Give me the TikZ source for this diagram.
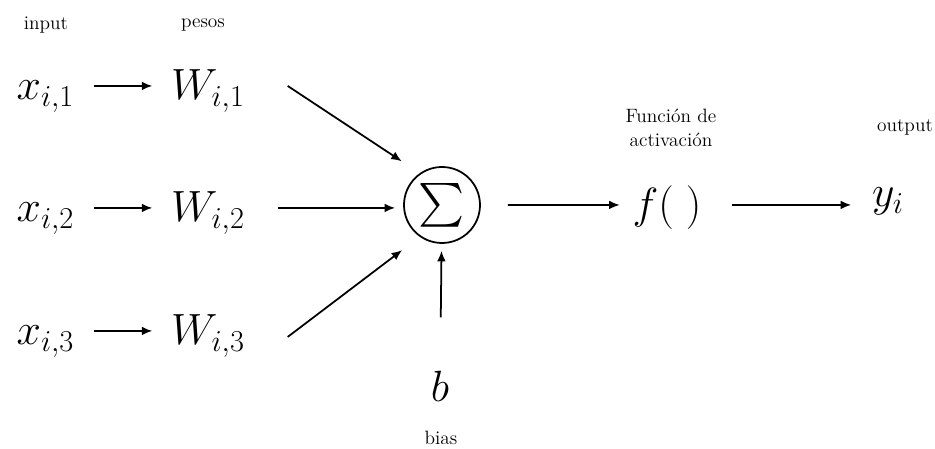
\documentclass[tikz,border=0pt]{standalone}
\usepackage{amsmath}
\usetikzlibrary{arrows.meta}
\tikzset{
  mathnode/.style={anchor=base, inner sep=0pt, text height=18pt, text depth=2pt,
    font=\fontsize{25}{30}\selectfont},
  label/.style={font=\fontsize{11}{14}\selectfont, align=center, inner sep=0pt},
  sumnode/.style={circle, draw, line width=1pt, minimum size=1.52cm, inner sep=0pt,
    font=\fontsize{25}{30}\selectfont}
}
\begin{document}
\begin{tikzpicture}[>={Latex[length=6pt,width=5pt]}, line width=1pt]
      \useasboundingbox (0,0) rectangle (18.7,8.98);
      \node[label] (input) at (0.92,8.48) {input};
      \node[label] (pesos) at (4.06,8.48) {pesos};
      \node[label] (act) at (13.42,6.42) {Función de\\activación};
      \node[label] (output) at (18.1,6.44) {output};
      \node[label] (bias) at (8.82,0.22) {bias};
      \node[mathnode] (x1) at (0.91,6.98) {$x_{i,1}$};
      \node[mathnode] (x2) at (0.91,4.54) {$x_{i,2}$};
      \node[mathnode] (x3) at (0.91,2.08) {$x_{i,3}$};
      \node[mathnode] (W1) at (4.16,6.98) {$W_{i,1}$};
      \node[mathnode] (W2) at (4.16,4.54) {$W_{i,2}$};
      \node[mathnode] (W3) at (4.16,2.08) {$W_{i,3}$};
      \node[sumnode] (sum) at (8.84,4.88) {$\sum$};
      \node[mathnode] (b) at (8.8,0.94) {$b$};
      \node[mathnode] (f) at (13.34,4.6) {$f(\;)$};
      \node[mathnode] (y) at (17.76,4.84) {$y_i$};
      \coordinate (w1out) at ([xshift=0.84cm]W1.east);
      \coordinate (w3out) at ([xshift=0.84cm,yshift=-0.12cm]W3.east);
      \begin{scope}[->]
        \draw[shorten <=0.38cm, shorten >=0.36cm] (x1) to (W1);
        \draw[shorten <=0.38cm, shorten >=0.36cm] (x2) to (W2);
        \draw[shorten <=0.38cm, shorten >=0.36cm] (x3) to (W3);
        \draw[shorten >=0.43cm] (w1out) to (sum.125);
        \draw[shorten <=0.64cm, shorten >=0.16cm] (W2) to (W2 -| sum.west);
        \draw[shorten >=0.44cm] (w3out) to (sum.235);
        \draw[shorten <=1.04cm, shorten >=0.14cm] (b) to (sum);
        \draw[shorten <=0.54cm, shorten >=0.24cm] (sum) to (f);
        \draw[shorten <=0.6cm, shorten >=0.4cm] (f) to (f -| y.west);
      \end{scope}
    \end{tikzpicture}
\end{document}
